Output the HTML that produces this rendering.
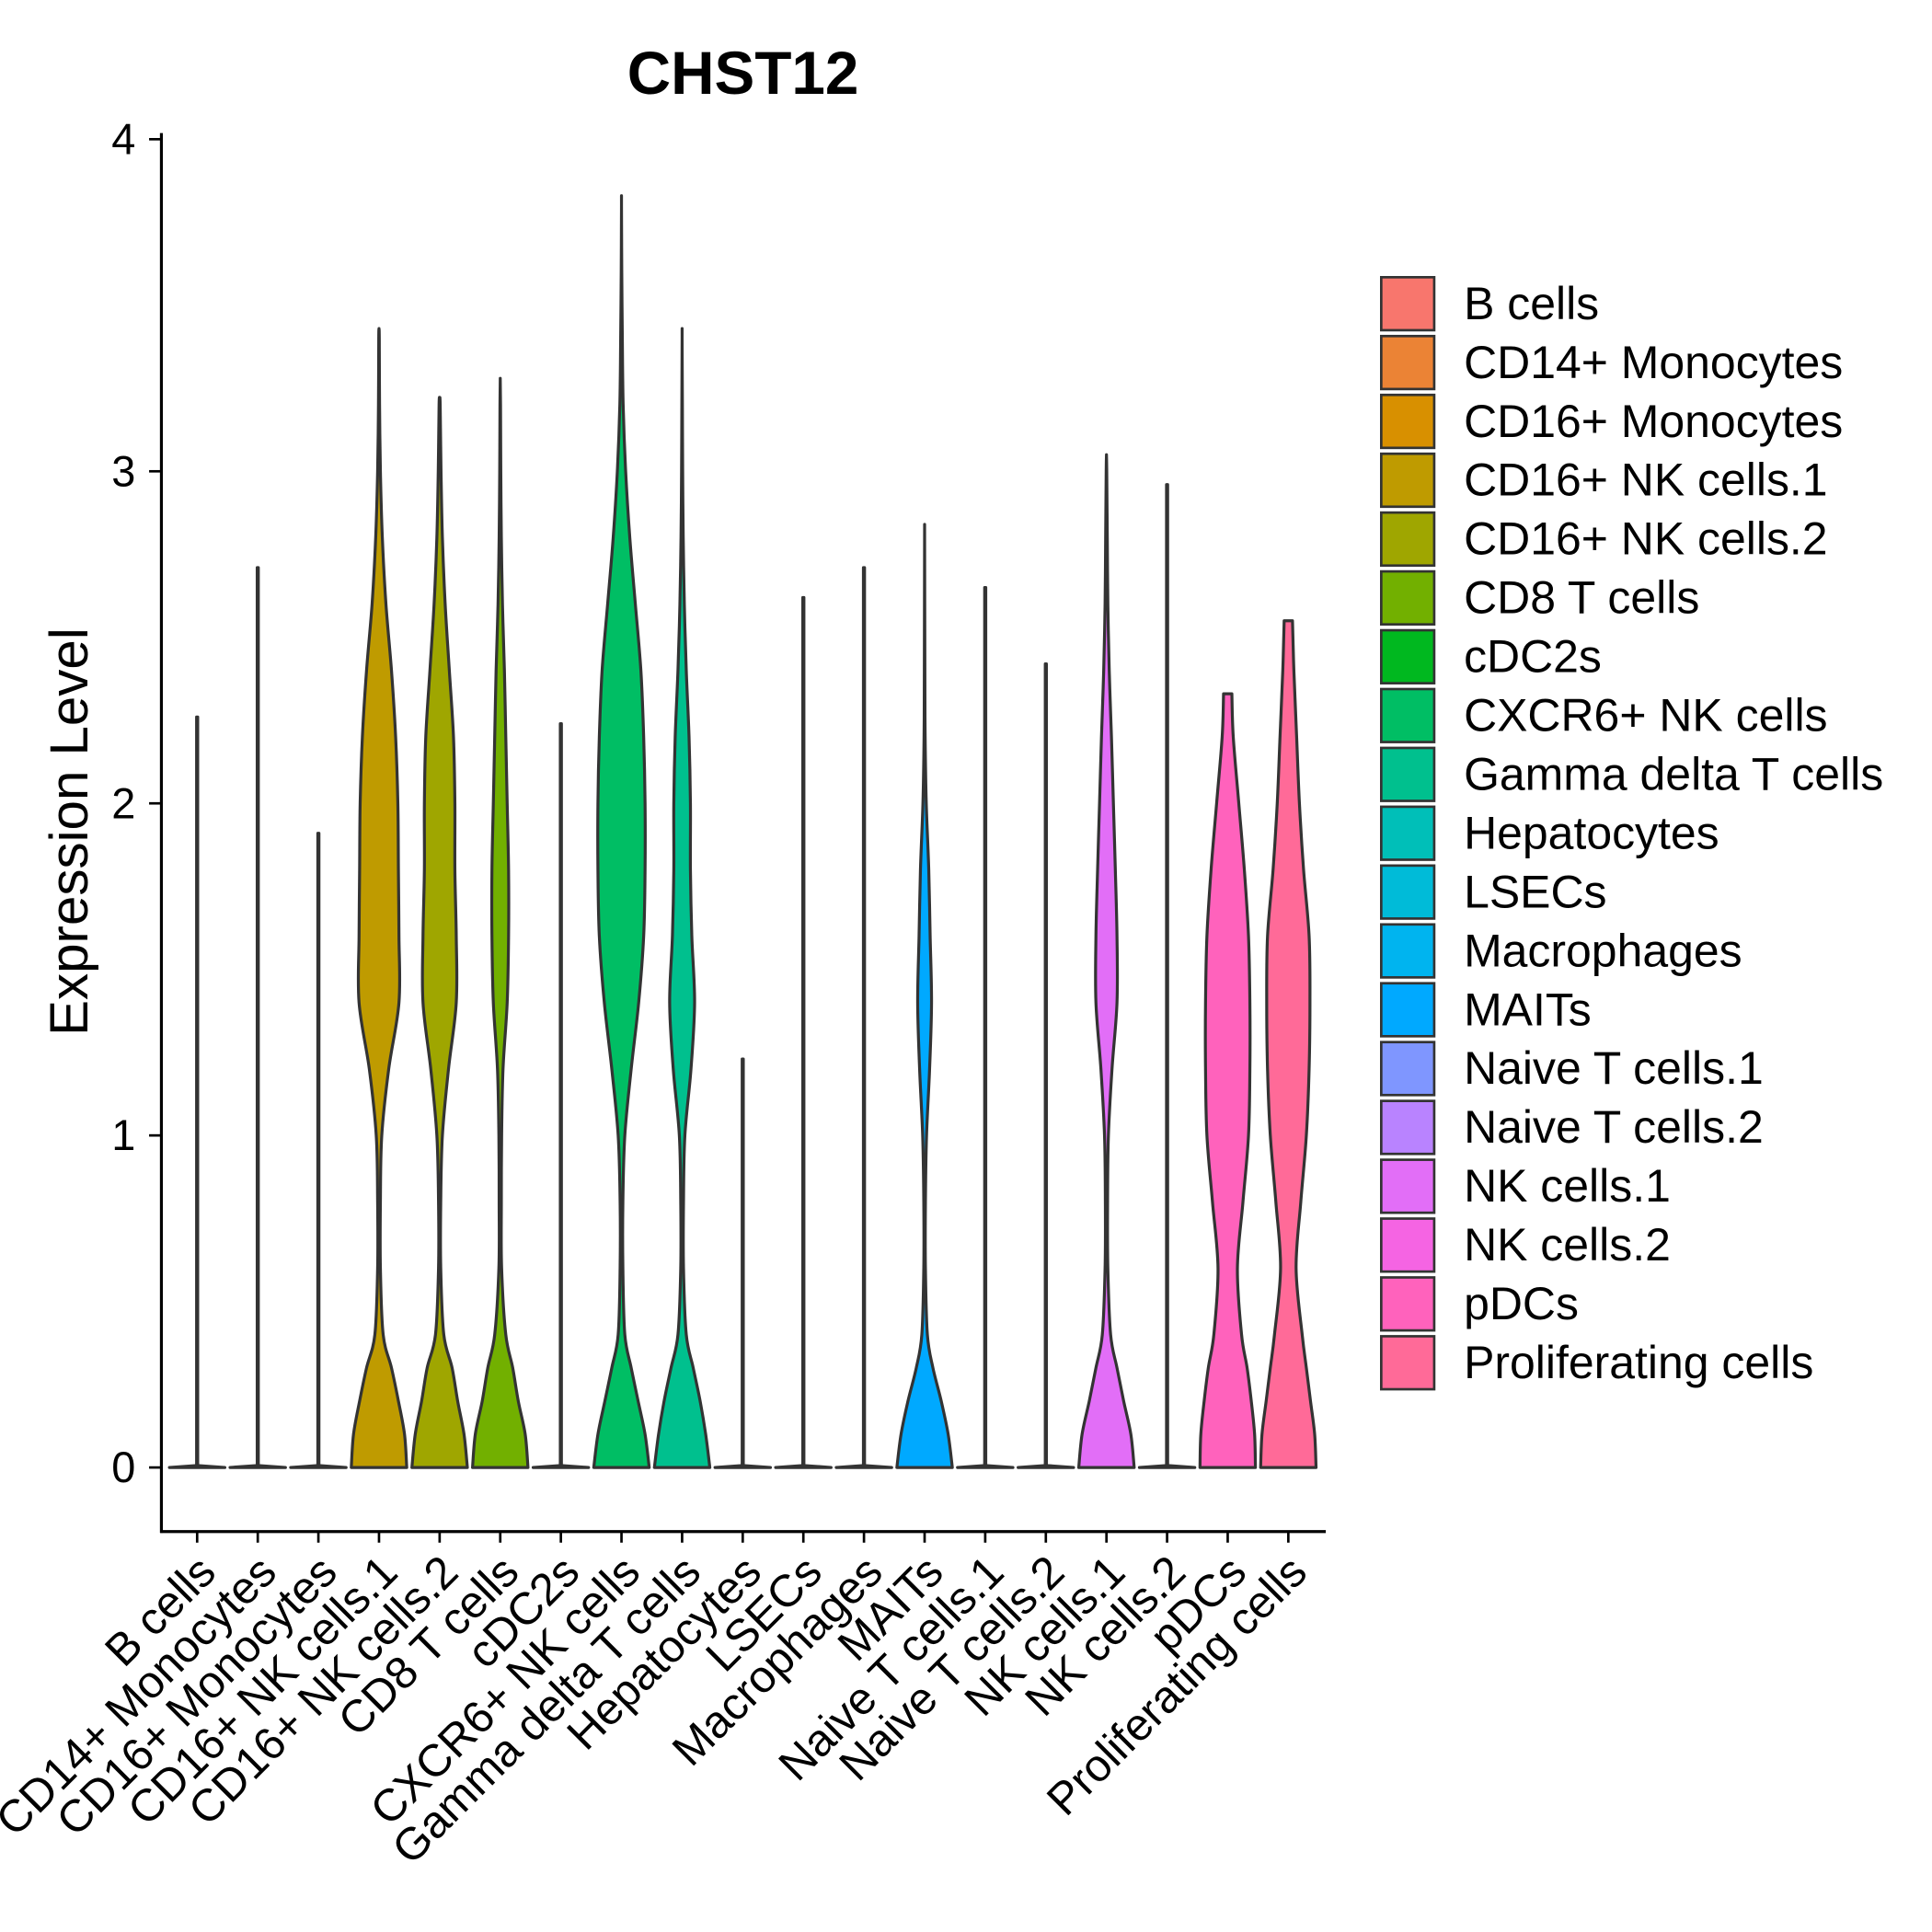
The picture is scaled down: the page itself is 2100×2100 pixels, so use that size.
<!DOCTYPE html>
<html><head><meta charset="utf-8"><style>
html,body{margin:0;padding:0;background:#fff}
svg{display:block;font-family:"Liberation Sans",Arial,sans-serif}
</style></head><body>
<svg id="chart" width="2100" height="2100" viewBox="0 0 1568 1568" xmlns="http://www.w3.org/2000/svg">
<text x="603" y="76" text-anchor="middle" font-size="49" font-weight="bold">CHST12</text>
<text transform="translate(71,675) rotate(-90)" text-anchor="middle" font-size="43.5">Expression Level</text>
<g id="plot"></g>
<g id="legend"></g>
</svg>
<script>
const categories=["B cells","CD14+ Monocytes","CD16+ Monocytes","CD16+ NK cells.1","CD16+ NK cells.2","CD8 T cells","cDC2s","CXCR6+ NK cells","Gamma delta T cells","Hepatocytes","LSECs","Macrophages","MAITs","Naive T cells.1","Naive T cells.2","NK cells.1","NK cells.2","pDCs","Proliferating cells"];
const colors=["#F8766D","#EB8335","#D89000","#BF9B00","#9FA600","#72B000","#00B81F","#00BE64","#00C08E","#00BFB8","#00BBD8","#00B4EF","#00A9FF","#7F96FF","#B983FF","#E26EF7","#F564E3","#FF62BC","#FF6A98"];
const maxExpr=[2.26,2.71,1.91,3.43,3.22,3.28,2.24,3.83,3.43,1.23,2.62,2.71,2.84,2.65,2.42,3.05,2.96,2.33,2.55];
const levels=[0,0.1,0.2,0.3,0.4,0.6,0.8,1.0,1.2,1.4,1.6,1.8,2.0,2.2,2.4,2.6,2.8,3.0,3.2,3.4,3.6,3.8];
const dens=[
 [],[],[],
 [1,.92,.7,.45,.15,.05,.05,.1,.35,.72,.72,.7,.68,.6,.45,.25,.12,.05,.02,.01],
 [1,.88,.65,.45,.15,.04,.04,.1,.32,.6,.6,.55,.55,.5,.35,.2,.1,.05,.02],
 [1,.9,.65,.45,.2,.05,.04,.05,.1,.25,.3,.3,.25,.2,.15,.08,.04,.02,.01],
 [],
 [1,.85,.6,.35,.12,.05,.05,.12,.35,.62,.8,.85,.85,.8,.7,.5,.3,.15,.06,.03,.01,0],
 [1,.85,.65,.4,.15,.05,.05,.1,.32,.45,.35,.3,.3,.25,.15,.08,.04,.02,.01,0],
 [],[],[],
 [1,.85,.6,.3,.1,.03,.03,.07,.18,.25,.2,.15,.06,.02,.01],
 [],[],
 [1,.88,.62,.38,.15,.05,.04,.07,.2,.38,.38,.32,.25,.18,.1,.05,.03,.01],
 [],
 [1,.97,.85,.7,.5,.35,.55,.75,.8,.8,.75,.6,.4,.2],
 [1,.95,.8,.65,.5,.28,.45,.65,.75,.78,.75,.55,.4,.3,.2]
];
const topW=[0,0,0,0,0,0,0,0,0,0,0,0,0,0,0,0,0,0.15,0.15];
const yTicks=[0,1,2,3,4];
const legendLabels=categories;

const NS="http://www.w3.org/2000/svg";
const X0=160,DX=49.2,HALF=22.5,Y0=1191,DY=269.5;
const xs=i=>X0+i*DX, ys=v=>Y0-v*DY;
function mk(tag,attrs,parent,txt){const e=document.createElementNS(NS,tag);for(const k in attrs)e.setAttribute(k,attrs[k]);if(txt!==undefined)e.textContent=txt;parent.appendChild(e);return e;}
function smooth(pts){let d='M'+pts[0][0].toFixed(2)+','+pts[0][1].toFixed(2);for(let i=0;i<pts.length-1;i++){const p0=pts[Math.max(0,i-1)],p1=pts[i],p2=pts[i+1],p3=pts[Math.min(pts.length-1,i+2)];const c1=[p1[0]+(p2[0]-p0[0])/6,p1[1]+(p2[1]-p0[1])/6],c2=[p2[0]-(p3[0]-p1[0])/6,p2[1]-(p3[1]-p1[1])/6];d+='C'+c1.map(v=>v.toFixed(2)).join(',')+' '+c2.map(v=>v.toFixed(2)).join(',')+' '+p2[0].toFixed(2)+','+p2[1].toFixed(2);}return d;}
const plot=document.getElementById('plot');
categories.forEach((c,i)=>{
  const cx=xs(i);let pts=[];
  const d=dens[i];
  if(d.length===0){pts=[[0,1],[0.006,0.02],[maxExpr[i],0.02],[maxExpr[i],0]];}
  else{for(let k=0;k<d.length&&levels[k]<maxExpr[i];k++)pts.push([levels[k],d[k]]);pts.push([maxExpr[i],topW[i]]);}
  const right=pts.map(p=>[cx+p[1]*HALF,ys(p[0])]);
  const left=pts.slice().reverse().map(p=>[cx-p[1]*HALF,ys(p[0])]);
  const pathD=(d.length===0)?('M'+right.concat(left).map(q=>q[0].toFixed(2)+','+q[1].toFixed(2)).join('L')+'Z'):(smooth(right)+smooth(left).replace(/^M/,'L')+'Z');
  const p=mk('path',{d:pathD,fill:colors[i],stroke:'#333',"stroke-width":2.4,"stroke-linejoin":"round"},plot);
  
  
  const t=mk('line',{x1:cx,x2:cx,y1:1243,y2:1252,stroke:'#000',"stroke-width":2},plot);
  
  
  const lb=mk('text',{transform:`translate(${cx+17},${1278}) rotate(-45)`,"text-anchor":"end","font-size":36.7},plot,c);
  
  
});
yTicks.forEach(v=>{
  const t=mk('line',{x1:121,x2:131,y1:ys(v),y2:ys(v),stroke:'#000',"stroke-width":2},plot);
  
  
  const l=mk('text',{x:110,y:ys(v)+12,"text-anchor":"end","font-size":35},plot,String(v));
  
  
});
const ya=mk('line',{x1:131,x2:131,y1:108,y2:1244,stroke:'#000',"stroke-width":2.4},plot);


const xa=mk('line',{x1:130,x2:1076,y1:1243,y2:1243,stroke:'#000',"stroke-width":2.4},plot);


const leg=document.getElementById('legend');
legendLabels.forEach((c,i)=>{
  const y=224+i*47.75;
  const g=mk('g',{},leg);
  
  
  mk('rect',{x:1121,y:y+1,width:43,height:43,fill:colors[i],stroke:'#333',"stroke-width":2},g);
  mk('text',{x:1188,y:y+35,"font-size":37.3},g,c);
});
</script>
</body></html>
